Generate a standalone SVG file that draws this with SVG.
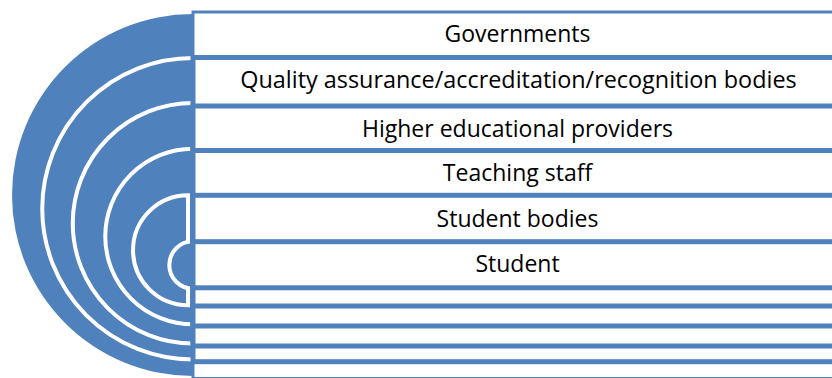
<svg xmlns="http://www.w3.org/2000/svg" width="832" height="378" viewBox="0 0 832 378">
  <style>
    .disc { fill: #4F81BD; stroke: none; }
    .arc { fill: none; stroke: #FFFFFF; stroke-width: 4; }
    .box { fill: #FFFFFF; stroke: #4F81BD; stroke-width: 5; }
    .label { font-family: "Open Sans", "Liberation Sans", sans-serif; font-size: 23px; fill: #000000; text-anchor: middle; }
  </style>
  <rect x="0" y="0" width="832" height="378" fill="#FFFFFF"/>
  <g id="discs">
    <path id="disc-governments" class="disc" d="M193,14 A181,181 0 0 0 193,376 Z"/>
    <path id="disc-quality" class="disc" d="M193,58 A150.75,150.75 0 0 0 193,359.5 Z"/>
    <path class="arc" d="M193,58 A150.75,150.75 0 0 0 193,359.5"/>
    <path id="disc-higher" class="disc" d="M193,103 A120.3,120.3 0 0 0 193,343.6 Z"/>
    <path class="arc" d="M193,103 A120.3,120.3 0 0 0 193,343.6"/>
    <path id="disc-teaching" class="disc" d="M193,148.7 A87.8,87.8 0 0 0 193,324.3 Z"/>
    <path class="arc" d="M193,148.7 A87.8,87.8 0 0 0 193,324.3"/>
    <path id="disc-studentbodies" class="disc" d="M188,195.3 A55,55 0 0 0 188,305.3 Z"/>
    <path class="arc" d="M188,195.3 A55,55 0 0 0 188,305.3 Z"/>
    <path id="disc-student" class="disc" d="M193,241.3 A23.7,23.7 0 0 0 193,288.7 Z"/>
    <path class="arc" d="M193,241.3 A23.7,23.7 0 0 0 193,288.7"/>
  </g>
  <g id="node-governments">
    <rect class="box" x="193" y="12" width="660" height="366.5" style="stroke-width:3"/>
    <text class="label" x="517.5" y="42.3">Governments</text>
  </g>
  <g id="node-quality">
    <rect class="box" x="193" y="57.5" width="660" height="304.2"/>
    <text class="label" x="518.5" y="88.3" style="font-size:23.4px">Quality assurance/accreditation/recognition bodies</text>
  </g>
  <g id="node-higher">
    <rect class="box" x="193" y="106" width="660" height="240"/>
    <text class="label" x="517.5" y="136.7">Higher educational providers</text>
  </g>
  <g id="node-teaching">
    <rect class="box" x="193" y="150.5" width="660" height="175.5"/>
    <text class="label" x="517.5" y="180.7">Teaching staff</text>
  </g>
  <g id="node-studentbodies">
    <rect class="box" x="193" y="195.3" width="660" height="110.7"/>
    <text class="label" x="517.5" y="226.7">Student bodies</text>
  </g>
  <g id="node-student">
    <rect class="box" x="193" y="241.7" width="660" height="46.1"/>
    <text class="label" x="517.5" y="272.3">Student</text>
  </g>
  <g id="connectors"></g>
</svg>
